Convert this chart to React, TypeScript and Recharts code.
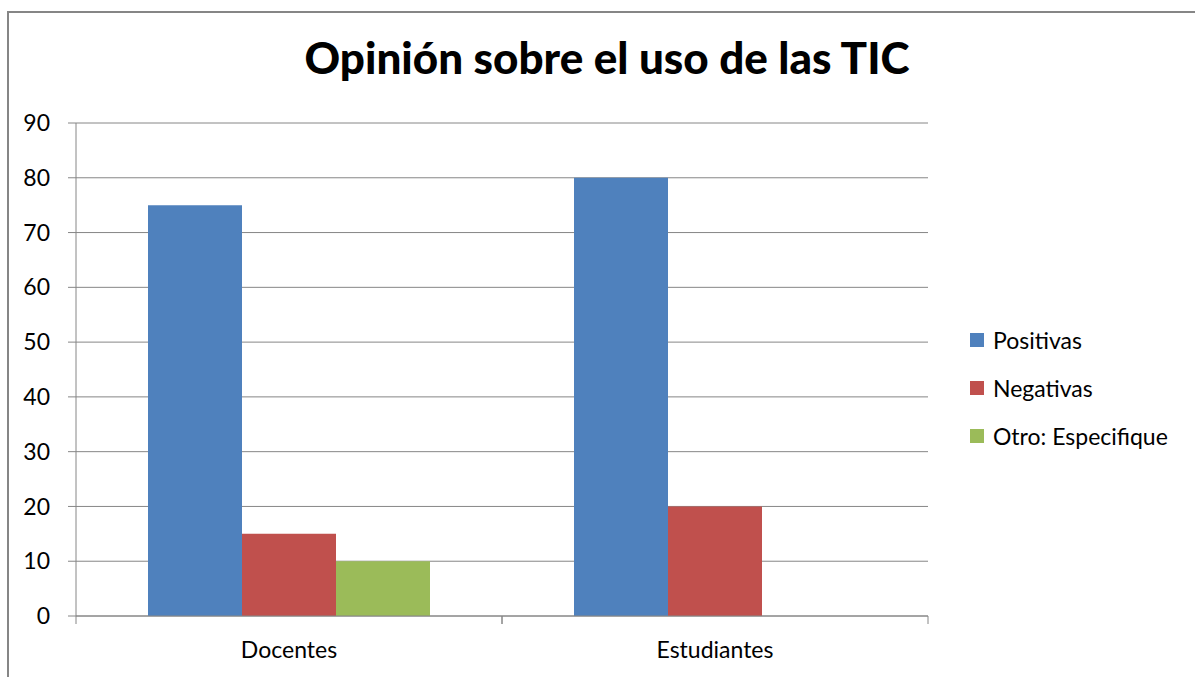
import { BarChart, Bar, XAxis, YAxis, CartesianGrid } from 'recharts'

const categories = ['Docentes', 'Estudiantes']
const positivas = [75, 80]
const negativas = [15, 20]
const otro = [10, 0]
const yTicks = [0, 10, 20, 30, 40, 50, 60, 70, 80, 90]

const data = categories.map((name, i) => ({
  name,
  positivas: positivas[i],
  negativas: negativas[i],
  otro: otro[i],
}))

const SERIES = [
  { key: 'positivas', label: 'Positivas', color: '#4F81BD' },
  { key: 'negativas', label: 'Negativas', color: '#C0504D' },
  { key: 'otro', label: 'Otro: Especifique', color: '#9BBB59' },
]

const FONT = 'Lato, "Open Sans", sans-serif'
const AXIS = '#868686'
const W = 1195
const H = 677
const PLOT_LEFT = 76
const PLOT_RIGHT = 928
const BAND = (PLOT_RIGHT - PLOT_LEFT) / categories.length

const CategoryTick = ({ x, y, payload }: { x?: number; y?: number; payload?: { value: string } }) => {
  const cx = x ?? 0
  const cy = y ?? 0
  return (
    <g>
      <line x1={cx - BAND / 2} x2={cx - BAND / 2} y1={cy} y2={cy + 8} stroke={AXIS} />
      <line x1={cx + BAND / 2} x2={cx + BAND / 2} y1={cy} y2={cy + 8} stroke={AXIS} />
      <text x={cx} y={cy + 42} textAnchor="middle" fill="#000" fontSize={23} fontFamily={FONT}>
        {payload?.value}
      </text>
    </g>
  )
}

export default function App() {
  return (
    <div style={{ position: 'fixed', left: 0, top: 0, width: W, height: H, overflow: 'hidden', background: '#fff' }}>
      <div
        style={{
          position: 'absolute',
          left: 7,
          top: 11,
          width: 1300,
          height: 800,
          border: `2px solid ${AXIS}`,
          boxSizing: 'border-box',
        }}
      />
      <div
        style={{
          position: 'absolute',
          left: 0,
          width: 1214,
          top: 31,
          textAlign: 'center',
          fontFamily: FONT,
          fontWeight: 900,
          fontSize: 44,
          color: '#000',
        }}
      >
        Opinión sobre el uso de las TIC
      </div>
      <div style={{ position: 'absolute', left: 0, top: 0 }}>
        <BarChart
          width={W}
          height={H}
          data={data}
          margin={{ top: 123, right: W - PLOT_RIGHT, bottom: 21, left: PLOT_LEFT - 60 }}
          barSize={94}
          barGap={0}
        >
          <CartesianGrid horizontal vertical={false} stroke={AXIS} />
          <XAxis
            dataKey="name"
            height={40}
            tickLine={false}
            tickSize={0}
            tickMargin={0}
            axisLine={{ stroke: AXIS }}
            tick={<CategoryTick />}
            interval={0}
          />
          <YAxis
            width={60}
            domain={[0, 90]}
            ticks={yTicks}
            interval={0}
            tickSize={8}
            tickMargin={18}
            axisLine={{ stroke: AXIS }}
            tickLine={{ stroke: AXIS }}
            tick={{ fill: '#000', fontSize: 23, fontFamily: FONT }}
          />
          {SERIES.map((s) => (
            <Bar key={s.key} dataKey={s.key} name={s.label} fill={s.color} isAnimationActive={false} />
          ))}
        </BarChart>
      </div>
      <div style={{ position: 'absolute', left: 970, top: 316, fontFamily: FONT, fontSize: 23, color: '#000' }}>
        {SERIES.map((s) => (
          <div key={s.key} style={{ display: 'flex', alignItems: 'center', height: 48 }}>
            <span style={{ width: 14, height: 14, background: s.color, marginRight: 9, display: 'inline-block' }} />
            <span>{s.label}</span>
          </div>
        ))}
      </div>
    </div>
  )
}
